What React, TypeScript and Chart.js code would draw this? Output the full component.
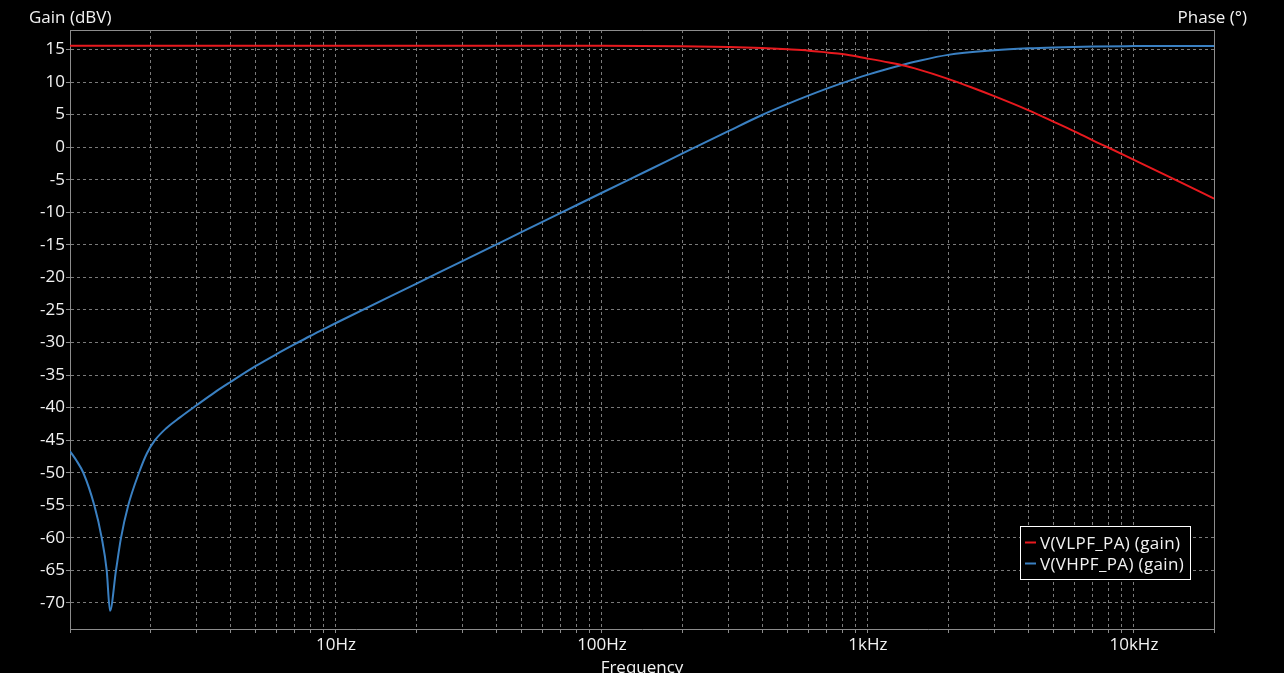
import React, { useEffect, useRef } from 'react';
import { Chart, registerables } from 'chart.js';

Chart.register(...registerables);

// ---------- data ----------
const seriesLabels = ['V(VLPF_PA) (gain)', 'V(VHPF_PA) (gain)'];
const seriesColors = ['#e8191e', '#3a80c2'];

const lpfFreq = [1, 10, 100, 200, 300, 400, 500, 600, 700, 800, 1000, 1200, 1377, 1500, 2000, 2500, 3000, 4000, 5000, 6000, 7000, 8000, 10000, 15000, 20000];
const lpfGain = [15.6, 15.6, 15.58, 15.5, 15.38, 15.22, 15.03, 14.83, 14.55, 14.3, 13.6, 13.0, 12.5, 12.1, 10.5, 9.05, 7.8, 5.7, 3.9, 2.4, 1.05, -0.05, -1.95, -5.4, -7.9];

const hpfFreq = [1, 1.06, 1.122, 1.234, 1.316, 1.374, 1.414, 1.489, 1.555, 1.656, 1.817, 1.947, 2.087, 2.296, 2.592, 3, 3.5, 4, 5, 6, 7, 8, 9, 10, 20, 30, 40, 50, 70, 100, 150, 200, 300, 400, 500, 600, 700, 800, 1000, 1200, 1377, 1500, 2000, 3000, 4000, 5000, 7000, 10000, 15000, 20000];
const hpfGain = [-46.7, -48.2, -50, -55, -60, -65, -71.2, -65, -60, -55, -50, -47.0, -45.0, -43.2, -41.5, -39.6, -37.65, -36.1, -33.6, -31.75, -30.26, -29.0, -27.94, -27.0, -20.98, -17.46, -14.96, -13.02, -10.1, -7.0, -3.5, -1.0, 2.5, 4.95, 6.65, 7.95, 8.99, 9.84, 11.15, 12.1, 12.75, 13.12, 14.18, 14.88, 15.18, 15.33, 15.47, 15.53, 15.56, 15.56];

const xMin = 1;
const xMax = 20000;
const yMin = -74;
const yMax = 18;
const xGridMultiples = [1, 2, 3, 4, 5, 6, 7, 8, 9];
const xGridDecades = [1, 10, 100, 1000, 10000];
const xLabelValues = [10, 100, 1000, 10000];
const xLabelTexts = ['10Hz', '100Hz', '1kHz', '10kHz'];
const yTickValues = [15, 10, 5, 0, -5, -10, -15, -20, -25, -30, -35, -40, -45, -50, -55, -60, -65, -70];

const yTitle = 'Gain (dBV)';
const y2Title = 'Phase (°)';
const xTitle = 'Frequency';

// ---------- styles ----------
const FAMILY = '"Open Sans", "Noto Sans", sans-serif';
const FONT_SIZE = 17;
const FONT = `${FONT_SIZE}px ${FAMILY}`;
const textColor = '#f2f2f2';
const gridColor = '#7a7a7a';
const frameColor = '#8c8c8c';

const xGridValues = xGridDecades
  .flatMap((d) => xGridMultiples.map((m) => m * d))
  .filter((v) => v >= xMin && v <= xMax);

function xLabel(v: number): string {
  const i = xLabelValues.findIndex((lv) => Math.abs(lv - v) < 1e-6 * lv);
  return i >= 0 ? xLabelTexts[i] : '';
}

const decorPlugin = {
  id: 'decor',
  beforeDraw(chart: any) {
    const { ctx, width, height } = chart;
    ctx.save();
    ctx.fillStyle = '#000';
    ctx.fillRect(0, 0, width, height);
    ctx.restore();
  },
  afterDraw(chart: any) {
    const { ctx, chartArea: a, height } = chart;
    ctx.save();
    // top and right frame
    ctx.strokeStyle = frameColor;
    ctx.lineWidth = 1;
    ctx.setLineDash([]);
    ctx.beginPath();
    ctx.moveTo(a.left, a.top + 0.5);
    ctx.lineTo(a.right + 0.5, a.top + 0.5);
    ctx.lineTo(a.right + 0.5, a.bottom + 4);
    ctx.stroke();

    // titles
    ctx.font = FONT;
    ctx.fillStyle = textColor;
    ctx.textBaseline = 'alphabetic';
    ctx.textAlign = 'left';
    ctx.fillText(yTitle, a.left - 41, a.top - 7);
    ctx.textAlign = 'right';
    ctx.fillText(y2Title, a.right + 33, a.top - 7);
    ctx.textAlign = 'center';
    ctx.fillText(xTitle, (a.left + a.right) / 2, height);

    // legend
    const datasets = chart.data.datasets;
    try {
      (ctx as any).letterSpacing = '0.35px';
    } catch (e) {
      /* ignore */
    }
    const boxLeft = a.right - 194;
    const boxTop = a.bottom - 103;
    const rowH = 21;
    const boxW = 170;
    const boxH = 11 + rowH * datasets.length;
    ctx.fillStyle = '#000';
    ctx.fillRect(boxLeft, boxTop, boxW, boxH);
    ctx.strokeStyle = '#ffffff';
    ctx.lineWidth = 1;
    ctx.strokeRect(Math.round(boxLeft) + 0.5, Math.round(boxTop) + 0.5, boxW, boxH);
    datasets.forEach((d: any, i: number) => {
      const rowY = boxTop + 16.5 + i * rowH;
      ctx.strokeStyle = d.borderColor;
      ctx.lineWidth = 2;
      ctx.beginPath();
      ctx.moveTo(boxLeft + 5, rowY);
      ctx.lineTo(boxLeft + 16, rowY);
      ctx.stroke();
      ctx.fillStyle = textColor;
      ctx.textAlign = 'left';
      ctx.textBaseline = 'alphabetic';
      ctx.fillText(d.label, boxLeft + 20, rowY + 6);
    });
    ctx.restore();
  },
};

export default function App() {
  const ref = useRef<HTMLCanvasElement>(null);

  useEffect(() => {
    const canvas = ref.current;
    if (!canvas) return;
    const makeData = (fs: number[], gs: number[]) => fs.map((f, i) => ({ x: f, y: gs[i] }));
    const chart = new Chart(canvas, {
      type: 'scatter',
      data: {
        datasets: [
          {
            label: seriesLabels[0],
            data: makeData(lpfFreq, lpfGain),
            borderColor: seriesColors[0],
            backgroundColor: seriesColors[0],
            showLine: true,
            pointRadius: 0,
            borderWidth: 2,
            cubicInterpolationMode: 'monotone',
          },
          {
            label: seriesLabels[1],
            data: makeData(hpfFreq, hpfGain),
            borderColor: seriesColors[1],
            backgroundColor: seriesColors[1],
            showLine: true,
            pointRadius: 0,
            borderWidth: 2,
            cubicInterpolationMode: 'monotone',
          },
        ],
      },
      options: {
        responsive: false,
        animation: false,
        devicePixelRatio: 1,
        layout: { padding: { top: 30, right: 70, left: 0, bottom: 0 } },
        plugins: {
          legend: { display: false },
          tooltip: { enabled: false },
          title: { display: false },
        },
        scales: {
          x: {
            type: 'logarithmic',
            min: xMin,
            max: xMax,
            afterFit: (s: any) => {
              s.height = 44;
            },
            afterBuildTicks: (s: any) => {
              s.ticks = xGridValues.map((v) => ({ value: v }));
            },
            ticks: {
              autoSkip: false,
              maxRotation: 0,
              minRotation: 0,
              padding: 2,
              color: textColor,
              font: { family: FAMILY, size: FONT_SIZE },
              callback: (v: any) => xLabel(Number(v)),
            },
            grid: {
              color: gridColor,
              lineWidth: 1,
              drawTicks: true,
              tickLength: 4,
              tickColor: frameColor,
              tickBorderDash: [],
            },
            border: { display: true, color: frameColor, width: 1, dash: [3, 3] },
          },
          y: {
            type: 'linear',
            min: yMin,
            max: yMax,
            afterFit: (s: any) => {
              s.width = 70;
            },
            afterBuildTicks: (s: any) => {
              s.ticks = yTickValues.map((v) => ({ value: v }));
            },
            ticks: {
              padding: 1,
              color: textColor,
              font: { family: FAMILY, size: FONT_SIZE },
              callback: (v: any) => String(v),
            },
            grid: {
              color: gridColor,
              lineWidth: 1,
              drawTicks: true,
              tickLength: 4,
              tickColor: frameColor,
              tickBorderDash: [],
            },
            border: { display: true, color: frameColor, width: 1, dash: [3, 3] },
          },
        },
      } as any,
      plugins: [decorPlugin],
    });

    let alive = true;
    const fonts = (document as any).fonts;
    if (fonts && fonts.load) {
      fonts.load(FONT).then(() => {
        if (alive) chart.update();
      });
    }
    return () => {
      alive = false;
      chart.destroy();
    };
  }, []);

  return (
    <div style={{ position: 'fixed', left: 0, top: 0, width: 1284, height: 673, background: '#000' }}>
      <canvas ref={ref} width={1284} height={673} style={{ display: 'block' }} />
    </div>
  );
}
